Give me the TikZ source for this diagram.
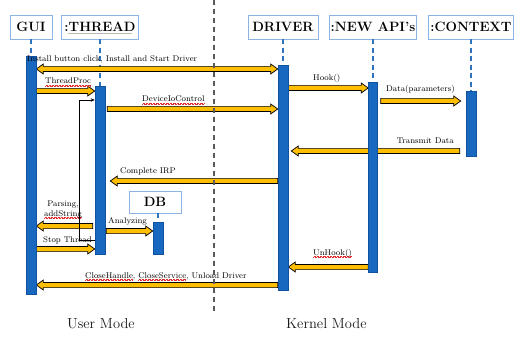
\documentclass[tikz,border=0pt]{standalone}
\usetikzlibrary{calc,arrows.meta}

\definecolor{barblue}{RGB}{24,104,192}
\definecolor{baredge}{RGB}{16,82,160}
\definecolor{boxedge}{RGB}{141,179,226}
\definecolor{lifeblue}{RGB}{46,117,190}
\definecolor{arrowfill}{RGB}{255,190,0}
\definecolor{squigred}{RGB}{225,45,45}
\definecolor{divgray}{RGB}{90,90,90}

% red spell-check squiggle under a word
\newlength\sqlen
\newcommand\sq[1]{\settowidth\sqlen{#1}\rlap{\color{squigred}\raisebox{-2.2pt}[0pt][0pt]{\hbox to\sqlen{\xleaders\hbox{\rule{0.7pt}{0.35pt}\rule[0.55pt]{0.7pt}{0.35pt}}\hfil}}}#1}

% block arrow with one head: #2 = tail, #3 = tip
\newcommand\fatarrow[3][]{%
  \coordinate (fas) at (#2);
  \coordinate (fae) at (#3);
  \coordinate (fab) at ($(fae)!7pt!(fas)$);
  \draw[fat,#1] ($(fas)!2.6pt!90:(fae)$) -- ($(fab)!2.6pt!90:(fae)$)
    -- ($(fab)!5pt!90:(fae)$) -- (fae) -- ($(fab)!5pt!-90:(fae)$)
    -- ($(fab)!2.6pt!-90:(fae)$) -- ($(fas)!2.6pt!-90:(fae)$) -- cycle;
}
% block arrow with a head at both ends
\newcommand\fatdouble[3][]{%
  \coordinate (fas) at (#2);
  \coordinate (fae) at (#3);
  \coordinate (fab) at ($(fae)!7pt!(fas)$);
  \coordinate (faa) at ($(fas)!7pt!(fae)$);
  \draw[fat,#1] (fas) -- ($(faa)!5pt!90:(fae)$) -- ($(faa)!2.6pt!90:(fae)$)
    -- ($(fab)!2.6pt!90:(fae)$) -- ($(fab)!5pt!90:(fae)$) -- (fae)
    -- ($(fab)!5pt!-90:(fae)$) -- ($(fab)!2.6pt!-90:(fae)$)
    -- ($(faa)!2.6pt!-90:(fae)$) -- ($(faa)!5pt!-90:(fae)$) -- cycle;
}

\tikzset{
  head/.style={draw=boxedge, line width=0.8pt, fill=white, inner sep=0pt,
    minimum height=24pt, font=\fontsize{13.5}{15}\selectfont\bfseries},
  bar/.style={draw=baredge, fill=barblue, line width=0.6pt, inner sep=0pt,
    minimum width=10pt},
  life/.style={lifeblue, line width=1.4pt, dash pattern=on 5pt off 3.5pt},
  fat/.style={draw=black, fill=arrowfill, line width=0.7pt, line join=miter},
  lbl/.style={font=\fontsize{8.3}{9}\selectfont, text=black, inner sep=0pt,
    anchor=base west},
  mode/.style={font=\fontsize{14.5}{16}\selectfont, inner sep=0pt,
    anchor=base west, text=black!90},
}

\begin{document}
\begin{tikzpicture}[x=1pt,y=-1pt]
\useasboundingbox[fill=white] (0,0) rectangle (515,337);

% message rows
\coordinate (r1) at (0,69);
\coordinate (r2) at (0,91);
\coordinate (r3) at (0,109);
\coordinate (r4) at (0,88);
\coordinate (r5) at (0,101);
\coordinate (r6) at (0,151);
\coordinate (r7) at (0,181);
\coordinate (r8) at (0,226);
\coordinate (r9) at (0,231);
\coordinate (r10) at (0,249);
\coordinate (r11) at (0,285);
\coordinate (r12) at (0,267);
\coordinate (lt) at (79,100);
\coordinate (lb) at (79,240);

% participants
\node[head, minimum width=42pt] (gui) at (31,27) {GUI};
\node[head, minimum width=77pt] (thread) at (100,27) {:THREAD};
\node[head, minimum width=70pt] (driver) at (283,27) {DRIVER};
\node[head, minimum width=87pt] (api) at (373,27) {:NEW API's};
\node[head, minimum width=85pt] (ctx) at (471,27) {:CONTEXT};
\node[head, minimum width=52pt, minimum height=22pt] (db) at (155,202) {DB};
\draw[gray!55, line width=1.1pt] ($(thread.south west)+(7,-5.5)$) -- ($(thread.south east)+(-7,-5.5)$);

% activation bars (placed now so lifelines can reach them)
\path
  node[bar, minimum height=238pt] (gbar) at (31,175) {}
  node[bar, minimum height=168pt] (tbar) at (100,170) {}
  node[bar, minimum height=225pt] (dbar) at (283,177.5) {}
  node[bar, minimum height=190pt, minimum width=9pt] (nbar) at (373,177) {}
  node[bar, minimum height=65pt] (cbar) at (471,123.5) {}
  node[bar, minimum height=32pt] (dbbar) at (158,238) {};

% lifelines
\draw[life] (gbar.north |- gui.south) -- (gbar.north);
\draw[life] (tbar.north |- thread.south) -- (tbar.north);
\draw[life] (dbar.north |- driver.south) -- (dbar.north);
\draw[life] (nbar.north |- api.south) -- (nbar.north);
\draw[life] (cbar.north |- ctx.south) -- (cbar.north);
\draw[life] (dbbar.north |- db.south) -- (dbbar.north);

% messages
\fatdouble{gbar.east |- r1}{dbar.west |- r1}
\fatarrow{gbar.east |- r2}{tbar.west |- r2}
\fatarrow{$(tbar.east |- r3)+(2,0)$}{dbar.west |- r3}
\fatarrow{dbar.east |- r4}{nbar.west |- r4}
\fatarrow{$(nbar.east |- r5)+(3,0)$}{$(cbar.west |- r5)+(-5,0)$}
\fatarrow{$(cbar.west |- r6)+(-6,0)$}{$(dbar.east |- r6)+(3,0)$}
\fatarrow{dbar.west |- r7}{$(tbar.east |- r7)+(5,0)$}
\fatarrow{$(tbar.west |- r8)+(-2,0)$}{gbar.east |- r8}
\fatarrow{$(tbar.east |- r9)+(1,0)$}{dbbar.west |- r9}
\fatarrow{gbar.east |- r10}{tbar.west |- r10}
\fatarrow{dbar.west |- r11}{gbar.east |- r11}
\fatarrow{nbar.west |- r12}{dbar.east |- r12}

% bars drawn over the messages
\path
  node[bar, minimum height=238pt] at (gbar) {}
  node[bar, minimum height=168pt] at (tbar) {}
  node[bar, minimum height=225pt] at (dbar) {}
  node[bar, minimum height=190pt, minimum width=9pt] at (nbar) {}
  node[bar, minimum height=65pt] at (cbar) {}
  node[bar, minimum height=32pt] at (dbbar) {};

% message labels
\node[lbl] (m1) at (27,62) {Install button click, Install and Start Driver};
\node[lbl] (m2) at (45,84) {\sq{ThreadProc}};
\node[lbl] (m3) at (142,102) {\sq{DeviceIoControl}};
\node[lbl] (m4) at (313,81) {Hook()};
\node[lbl] (m5) at (386,92) {Data(parameters)};
\node[lbl, anchor=base east] (m6) at (454,143) {Transmit Data};
\node[lbl] (m7) at (120,174) {Complete IRP};
\node[lbl, anchor=base] (m8a) at (63,206) {Parsing,};
\node[lbl, anchor=base] (m8b) at (63,216) {\sq{addString}};
\node[lbl] (m9) at (108,223) {Analyzing};
\node[lbl] (m10) at (43,242) {Stop Thread};
\node[lbl] (m11) at (85,278) {\sq{CloseHandle}, \sq{CloseService}, Unload Driver};
\node[lbl] (m12) at (313,255) {\sq{UnHook()}};

% thread self-loop
\draw[line width=0.8pt, -{Stealth[length=4pt,width=3.5pt]}]
  (tbar.west |- lb) -- (lb) -- (lt) -- (tbar.west |- lt);

% user / kernel boundary
\coordinate (divtop) at (214,0);
\coordinate (divbot) at (214,312);
\draw[divgray, line width=1.3pt, dash pattern=on 5pt off 4pt] (divtop) -- (divbot);

\node[mode] (um) at (67,328) {User Mode};
\node[mode] (km) at (286,328) {Kernel Mode};
\end{tikzpicture}
\end{document}
